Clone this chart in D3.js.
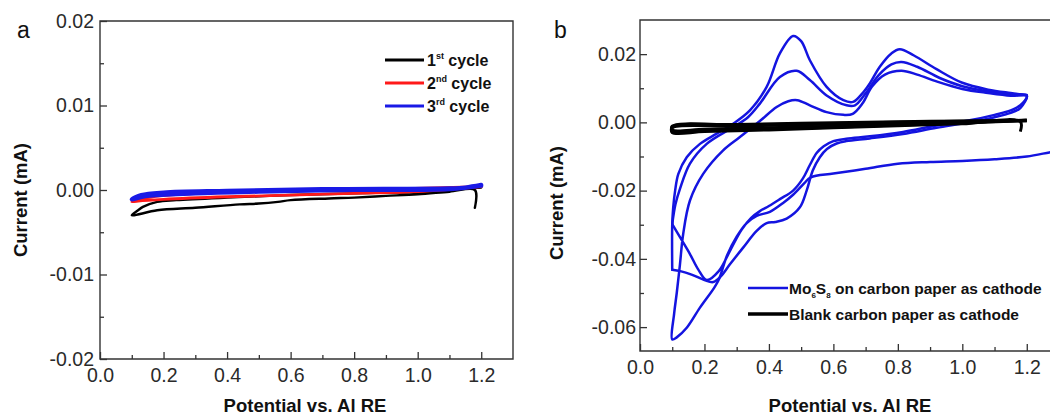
<!DOCTYPE html>
<html>
<head>
<meta charset="utf-8">
<script src="https://cdn.jsdelivr.net/npm/d3@7"></script>
<style>
  html, body { margin: 0; padding: 0; background: #fff; }
  svg { display: block; font-family: "Liberation Sans", Arial, sans-serif; }
</style>
</head>
<body>
<svg id="chart" width="1050" height="419"></svg>
<script>
// ---- Panel a: blank electrolyte, three CV cycles (potential V, current mA) ----
const potentialTicks = [0.0, 0.2, 0.4, 0.6, 0.8, 1.0, 1.2];
const potentialMinor = [0.1, 0.3, 0.5, 0.7, 0.9, 1.1, 1.3];
const currentTicksA = [-0.02, -0.01, 0.00, 0.01, 0.02];
const currentMinorA = [-0.015, -0.005, 0.005, 0.015];
const currentTickLabelsA = ["-0.02", "-0.01", "0.00", "0.01", "0.02"];

const cycle1A = [
  [1.18, -0.0021], [1.18, 0.0000], [1.10, -0.0002], [1.00, -0.0005], [0.90, -0.0007],
  [0.80, -0.0009], [0.72, -0.0010], [0.60, -0.0012], [0.56, -0.0014], [0.50, -0.0016],
  [0.44, -0.0017], [0.30, -0.0021], [0.18, -0.0024], [0.10, -0.0030],
  [0.12, -0.0024], [0.135, -0.0020], [0.18, -0.0014], [0.24, -0.0012], [0.40, -0.0009],
  [0.60, -0.0006], [0.80, -0.0004], [1.00, -0.0002], [1.20, 0.0003]
];
const cycle2A = [
  [1.20, 0.0004], [1.00, -0.0002], [0.80, -0.0004], [0.60, -0.0006], [0.40, -0.0008],
  [0.20, -0.0011], [0.12, -0.0013], [0.10, -0.0014],
  [0.15, -0.0009], [0.30, -0.0004], [0.60, -0.0001], [0.90, 0.0001], [1.20, 0.0004]
];
const cycle3A = [
  [1.20, 0.0005], [1.10, 0.0001], [0.80, 0.0000], [0.50, -0.0002], [0.30, -0.0004],
  [0.15, -0.0007], [0.10, -0.0011],
  [0.13, -0.0006], [0.20, -0.0003], [0.40, -0.0001], [0.70, 0.0001], [1.10, 0.0002],
  [1.15, 0.0003], [1.20, 0.0006]
];

// ---- Panel b: Mo6S8 cathode vs blank carbon paper ----
const currentTicksB = [-0.06, -0.04, -0.02, 0.00, 0.02];
const currentMinorB = [-0.05, -0.03, -0.01, 0.01, 0.03];
const currentTickLabelsB = ["-0.06", "-0.04", "-0.02", "0.00", "0.02"];

const mo6s8Cycle1 = [
  [1.30, -0.0083], [1.27, -0.0088], [1.20, -0.0100], [1.10, -0.0108], [1.00, -0.0113],
  [0.90, -0.0116], [0.80, -0.0121], [0.70, -0.0136], [0.60, -0.0150], [0.53, -0.0161],
  [0.51, -0.0178], [0.475, -0.0212], [0.444, -0.0236], [0.403, -0.0262], [0.362, -0.0274],
  [0.331, -0.0295], [0.300, -0.0335], [0.270, -0.0390], [0.245, -0.0460], [0.230, -0.0485],
  [0.186, -0.0543], [0.145, -0.0602], [0.114, -0.0630], [0.100, -0.0636],
  [0.106, -0.0560], [0.114, -0.0500], [0.124, -0.0416], [0.134, -0.0327], [0.155, -0.0229],
  [0.196, -0.0151], [0.258, -0.0082], [0.310, -0.0043], [0.372, 0.0004], [0.424, 0.0045],
  [0.460, 0.0062], [0.488, 0.0065], [0.527, 0.0050], [0.579, 0.0030], [0.631, 0.0022],
  [0.660, 0.0025], [0.690, 0.0055], [0.720, 0.0105], [0.760, 0.0140], [0.811, 0.0151],
  [0.860, 0.0140], [0.920, 0.0120], [1.000, 0.0098], [1.080, 0.0086], [1.150, 0.0078],
  [1.200, 0.0077],
  [1.180, 0.0050], [1.150, 0.0035], [1.100, 0.0022], [1.023, 0.0006], [0.920, -0.0009],
  [0.816, -0.0028], [0.713, -0.0041], [0.640, -0.0048], [0.600, -0.0055], [0.570, -0.0070],
  [0.548, -0.0090], [0.527, -0.0125], [0.505, -0.0165], [0.475, -0.0200], [0.434, -0.0225],
  [0.400, -0.0245], [0.372, -0.0260], [0.345, -0.0280], [0.315, -0.0315], [0.280, -0.0375],
  [0.245, -0.0435], [0.207, -0.0462], [0.180, -0.0430], [0.155, -0.0386], [0.125, -0.0338],
  [0.100, -0.0298]
];
const mo6s8Cycle2 = [
  [0.100, -0.0298], [0.110, -0.0240], [0.124, -0.0195], [0.155, -0.0121], [0.207, -0.0063],
  [0.289, -0.0014], [0.335, 0.0015], [0.372, 0.0055], [0.434, 0.0133], [0.486, 0.0151],
  [0.527, 0.0124], [0.579, 0.0079], [0.641, 0.0050], [0.667, 0.0050], [0.700, 0.0085],
  [0.740, 0.0138], [0.780, 0.0170], [0.811, 0.0177], [0.860, 0.0163], [0.930, 0.0130],
  [1.000, 0.0106], [1.080, 0.0091], [1.150, 0.0082], [1.200, 0.0079],
  [1.180, 0.0042], [1.150, 0.0028], [1.100, 0.0015], [1.023, 0.0000], [0.920, -0.0016],
  [0.816, -0.0034], [0.713, -0.0047], [0.640, -0.0055], [0.610, -0.0062], [0.580, -0.0078],
  [0.558, -0.0102], [0.536, -0.0141], [0.517, -0.0200], [0.496, -0.0249], [0.455, -0.0282],
  [0.420, -0.0292], [0.393, -0.0295], [0.362, -0.0318], [0.320, -0.0367], [0.279, -0.0416],
  [0.250, -0.0452], [0.227, -0.0468], [0.200, -0.0462], [0.160, -0.0446], [0.125, -0.0436],
  [0.100, -0.0432]
];
const mo6s8Cycle3 = [
  [0.100, -0.0432], [0.100, -0.0300], [0.103, -0.0250], [0.109, -0.0200], [0.119, -0.0151],
  [0.145, -0.0102], [0.186, -0.0063], [0.238, -0.0033], [0.289, -0.0004], [0.341, 0.0035],
  [0.393, 0.0104], [0.434, 0.0202], [0.475, 0.0253], [0.500, 0.0238], [0.527, 0.0182],
  [0.579, 0.0104], [0.631, 0.0065], [0.661, 0.0060], [0.690, 0.0085], [0.713, 0.0114],
  [0.744, 0.0163], [0.780, 0.0202], [0.806, 0.0214], [0.850, 0.0196], [0.920, 0.0156],
  [1.000, 0.0116], [1.080, 0.0096], [1.150, 0.0086], [1.200, 0.0080]
];

const blankCycle1 = [
  [1.18, -0.0027], [1.18, 0.0002], [1.00, -0.0004], [0.80, -0.0010], [0.60, -0.0016],
  [0.40, -0.0022], [0.20, -0.0027], [0.10, -0.0030],
  [0.10, -0.0016], [0.30, -0.0011], [0.60, -0.0005], [0.90, 0.0000], [1.20, 0.0005]
];
const blankCycle2 = [
  [1.20, 0.0005], [1.00, -0.0002], [0.80, -0.0008], [0.60, -0.0014], [0.40, -0.0019],
  [0.20, -0.0024], [0.10, -0.0027],
  [0.10, -0.0013], [0.30, -0.0008], [0.60, -0.0003], [0.90, 0.0002], [1.20, 0.0006]
];
const blankCycle3 = [
  [1.20, 0.0006], [1.00, -0.0001], [0.80, -0.0006], [0.60, -0.0011], [0.40, -0.0016],
  [0.20, -0.0020], [0.10, -0.0022],
  [0.10, -0.0011], [0.30, -0.0006], [0.60, -0.0001], [0.90, 0.0003], [1.20, 0.0006]
];

const svg = d3.select("#chart");
svg.append("rect").attr("width", 1050).attr("height", 419).attr("fill", "#fff");

const lineGen = (x, y) => d3.line()
  .x(d => x(d[0])).y(d => y(d[1]))
  .curve(d3.curveCatmullRom.alpha(0.5));

function drawAxes(g, x, y, yTicks, yMinor, yLabels, frame, yPad) {
  // frame
  g.append("path")
    .attr("d", `M${frame.r},${frame.t}H${frame.l}V${frame.b}H${frame.r}` + (frame.closed ? "Z" : ""))
    .attr("fill", "none").attr("stroke", "#333").attr("stroke-width", 1.4);

  const fmtX = d3.format(".1f");
  const bottomMinor = g.append("g").attr("transform", `translate(0,${frame.b})`)
    .call(d3.axisBottom(x).tickValues(potentialMinor.filter(v => x(v) < frame.r - 1)).tickSize(-4).tickFormat(""));
  const bottomMajor = g.append("g").attr("transform", `translate(0,${frame.b})`)
    .call(d3.axisBottom(x).tickValues(potentialTicks).tickSize(-7).tickPadding(9).tickFormat(fmtX));
  const leftMinor = g.append("g").attr("transform", `translate(${frame.l},0)`)
    .call(d3.axisLeft(y).tickValues(yMinor.filter(v => y(v) > frame.t + 1)).tickSize(-4).tickFormat(""));
  const leftMajor = g.append("g").attr("transform", `translate(${frame.l},0)`)
    .call(d3.axisLeft(y).tickValues(yTicks).tickSize(-7).tickPadding(yPad)
      .tickFormat((d, i) => yLabels[i]));

  [bottomMinor, bottomMajor, leftMinor, leftMajor].forEach(a => {
    a.select(".domain").remove();
    a.selectAll("line").attr("stroke", "#333").attr("stroke-width", 1.3);
    a.selectAll("text").attr("font-size", 19.5).attr("fill", "#2a2a2a")
      .attr("font-family", "'Liberation Sans', Arial, sans-serif");
  });
}

// ---------------- Panel a ----------------
const xA = d3.scaleLinear().domain([0, 1.3]).range([100, 513]);
const yA = d3.scaleLinear().domain([-0.02, 0.02]).range([359, 21]);
const gA = svg.append("g");
drawAxes(gA, xA, yA, currentTicksA, currentMinorA, currentTickLabelsA,
  { l: 100, r: 513, t: 21, b: 359, closed: true }, 6);

const seriesA = [
  { data: cycle1A, color: "#000000", width: 2.4 },
  { data: cycle2A, color: "#ff1a1a", width: 2.8 },
  { data: cycle3A, color: "#1a1ae6", width: 4.2 }
];
seriesA.forEach(s => {
  gA.append("path").attr("d", lineGen(xA, yA)(s.data))
    .attr("fill", "none").attr("stroke", s.color).attr("stroke-width", s.width)
    .attr("stroke-linejoin", "round").attr("stroke-linecap", "round");
});

gA.append("text").attr("x", 17).attr("y", 38).attr("font-size", 23).attr("fill", "#111").text("a");

// legend a
const legendA = [
  { n: "1", sup: "st", color: "#000000" },
  { n: "2", sup: "nd", color: "#ff1a1a" },
  { n: "3", sup: "rd", color: "#1a1ae6" }
];
legendA.forEach((d, i) => {
  const yy = 60 + i * 23;
  gA.append("line").attr("x1", 385).attr("x2", 424).attr("y1", yy).attr("y2", yy)
    .attr("stroke", d.color).attr("stroke-width", 3.2);
  const t = gA.append("text").attr("x", 427).attr("y", yy + 6)
    .attr("font-size", 16).attr("font-weight", "bold").attr("fill", "#111");
  t.append("tspan").text(d.n);
  t.append("tspan").attr("font-size", 9).attr("dy", -7).text(d.sup);
  t.append("tspan").attr("dy", 7).text(" cycle");
});

gA.append("text").attr("x", 305).attr("y", 412).attr("text-anchor", "middle")
  .attr("font-size", 18.5).attr("font-weight", "bold").attr("fill", "#111")
  .text("Potential vs. Al RE");
gA.append("text").attr("transform", "translate(27,200) rotate(-90)").attr("text-anchor", "middle")
  .attr("font-size", 18.5).attr("font-weight", "bold").attr("fill", "#111")
  .text("Current (mA)");

// ---------------- Panel b ----------------
const xB = d3.scaleLinear().domain([0, 1.3]).range([640, 1059]);
const yB = d3.scaleLinear().domain([-0.067, 0.03]).range([351, 20]);
const gB = svg.append("g");
drawAxes(gB, xB, yB, currentTicksB, currentMinorB, currentTickLabelsB,
  { l: 640, r: 1059, t: 20, b: 351, closed: false }, 4);

[mo6s8Cycle1, mo6s8Cycle2, mo6s8Cycle3].forEach(c => {
  gB.append("path").attr("d", lineGen(xB, yB)(c))
    .attr("fill", "none").attr("stroke", "#1414e0").attr("stroke-width", 2.5)
    .attr("stroke-linejoin", "round").attr("stroke-linecap", "round");
});
[blankCycle1, blankCycle2, blankCycle3].forEach(c => {
  gB.append("path").attr("d", lineGen(xB, yB)(c))
    .attr("fill", "none").attr("stroke", "#000").attr("stroke-width", 3)
    .attr("stroke-linejoin", "round").attr("stroke-linecap", "butt");
});

gB.append("text").attr("x", 554).attr("y", 38).attr("font-size", 23).attr("fill", "#111").text("b");

// legend b
gB.append("line").attr("x1", 748).attr("x2", 788).attr("y1", 288).attr("y2", 288)
  .attr("stroke", "#1414e0").attr("stroke-width", 2.6);
const tb1 = gB.append("text").attr("x", 789).attr("y", 294)
  .attr("font-size", 15.5).attr("font-weight", "bold").attr("fill", "#111");
tb1.append("tspan").text("Mo");
tb1.append("tspan").attr("font-size", 8).attr("dy", 4).text("6");
tb1.append("tspan").attr("dy", -4).text("S");
tb1.append("tspan").attr("font-size", 8).attr("dy", 4).text("8");
tb1.append("tspan").attr("dy", -4).text(" on carbon paper as cathode");

gB.append("line").attr("x1", 748).attr("x2", 788).attr("y1", 314).attr("y2", 314)
  .attr("stroke", "#000").attr("stroke-width", 3.4);
gB.append("text").attr("x", 789).attr("y", 320)
  .attr("font-size", 15.5).attr("font-weight", "bold").attr("fill", "#111")
  .text("Blank carbon paper as cathode");

gB.append("text").attr("x", 850).attr("y", 412).attr("text-anchor", "middle")
  .attr("font-size", 18.5).attr("font-weight", "bold").attr("fill", "#111")
  .text("Potential vs. Al RE");
gB.append("text").attr("transform", "translate(563,203) rotate(-90)").attr("text-anchor", "middle")
  .attr("font-size", 18.5).attr("font-weight", "bold").attr("fill", "#111")
  .text("Current (mA)");
</script>
</body>
</html>
